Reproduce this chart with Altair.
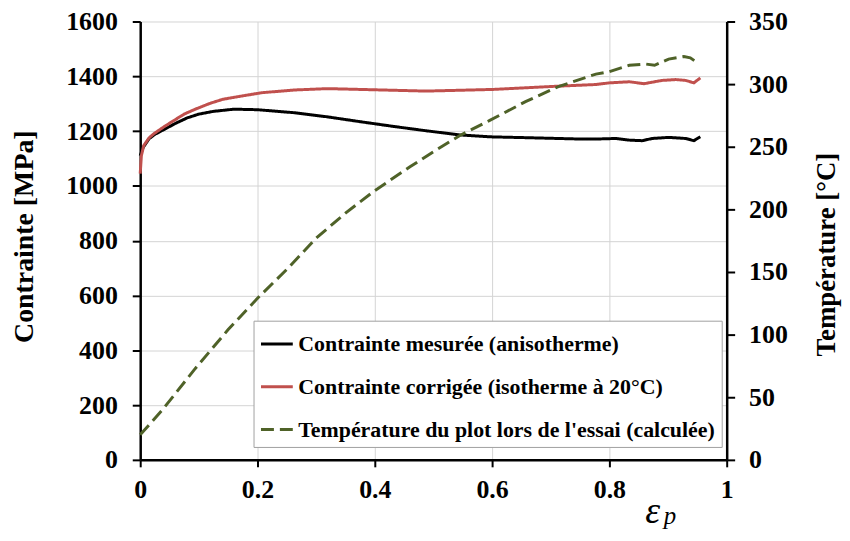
import altair as alt
import pandas as pd

# ---- data ----
series_names = [
    "Contrainte mesurée (anisotherme)",
    "Contrainte corrigée (isotherme à 20°C)",
    "Température du plot lors de l'essai (calculée)",
]

eps_meas = [0.000, 0.005, 0.015, 0.025, 0.040, 0.060, 0.080, 0.100, 0.125, 0.160,
            0.200, 0.263, 0.319, 0.376, 0.432, 0.488, 0.545, 0.597, 0.657, 0.713,
            0.750, 0.777, 0.811, 0.834, 0.856, 0.873, 0.901, 0.930, 0.944, 0.955]
s_meas = [1110, 1140, 1172, 1188, 1205, 1228, 1248, 1262, 1272, 1280,
          1278, 1267, 1252, 1234, 1217, 1201, 1186, 1179, 1176, 1173,
          1171, 1171, 1173, 1167, 1165, 1173, 1177, 1173, 1165, 1179]

eps_corr = [0.000, 0.002, 0.006, 0.015, 0.023, 0.040, 0.057, 0.075, 0.094, 0.120,
            0.141, 0.162, 0.207, 0.263, 0.319, 0.376, 0.432, 0.488, 0.545, 0.601,
            0.657, 0.713, 0.777, 0.800, 0.834, 0.859, 0.890, 0.913, 0.930, 0.944, 0.955]
s_corr = [1045, 1110, 1147, 1175, 1190, 1215, 1238, 1262, 1280, 1302,
          1316, 1324, 1340, 1350, 1355, 1352, 1349, 1346, 1349, 1352,
          1358, 1364, 1370, 1376, 1380, 1373, 1385, 1388, 1385, 1376, 1394]

eps_temp = [0.000, 0.038, 0.094, 0.150, 0.200, 0.252, 0.300, 0.350, 0.400, 0.460,
            0.500, 0.545, 0.596, 0.657, 0.713, 0.777, 0.800, 0.834, 0.862, 0.877,
            0.901, 0.927, 0.938, 0.953]
t_temp = [20, 40, 73, 104, 129, 153, 177, 197, 215, 234,
          246, 259, 271, 286, 298, 308, 310, 315, 316, 315,
          320, 322, 321, 316]

x_ticks = [0, 0.2, 0.4, 0.6, 0.8, 1]
stress_ticks = [0, 200, 400, 600, 800, 1000, 1200, 1400, 1600]
temp_ticks = [0, 50, 100, 150, 200, 250, 300, 350]

colors = ["#000000", "#C0504D", "#4F6228"]
dashes = [[1, 0], [1, 0], [13, 6]]
widths = [3, 3, 4.5]

rows = []
for e, v in zip(eps_meas, s_meas):
    rows.append({"eps": e, "val": v, "serie": series_names[0]})
for e, v in zip(eps_corr, s_corr):
    rows.append({"eps": e, "val": v, "serie": series_names[1]})
for e, v in zip(eps_temp, t_temp):
    rows.append({"eps": e, "val": v, "serie": series_names[2]})
df = pd.DataFrame(rows)

FONT = "Liberation Serif"

legend = alt.Legend(
    title=None, orient="none", legendX=114, legendY=301,
    symbolType="stroke", symbolSize=1024, symbolStrokeWidth=3.5,
    labelFont=FONT, labelFontWeight="bold", labelFontSize=22, labelLimit=0,
    labelOffset=4, rowPadding=14, padding=6,
    strokeColor="#A0A0A0", fillColor="white",
)

color_enc = alt.Color("serie:N", scale=alt.Scale(domain=series_names, range=colors), legend=legend)
dash_enc = alt.StrokeDash("serie:N", scale=alt.Scale(domain=series_names, range=dashes), legend=legend)
width_enc = alt.StrokeWidth("serie:N", scale=alt.Scale(domain=series_names, range=widths), legend=legend)

x_enc = alt.X(
    "eps:Q",
    scale=alt.Scale(domain=[0, 1], nice=False),
    axis=alt.Axis(
        values=x_ticks, format="~g", grid=True, gridColor="#D4D4D4", gridWidth=1,
        domainColor="black", domainWidth=2.5, tickColor="black", tickWidth=2, tickSize=7,
        labelFont=FONT, labelFontWeight="bold", labelFontSize=26, labelPadding=10,
        labelColor="black", labelFlush=False,
        title="ε", titleFont=FONT, titleFontStyle="italic", titleFontWeight="normal",
        titleFontSize=38, titleX=515, titleY=63, titleBaseline="alphabetic",
        titleAnchor="start", titleAlign="center", titleColor="black",
    ),
)

stress = alt.Chart(df).transform_filter(
    alt.FieldOneOfPredicate(field="serie", oneOf=series_names[:2])
).mark_line().encode(
    x=x_enc,
    y=alt.Y(
        "val:Q",
        scale=alt.Scale(domain=[0, 1600], nice=False),
        axis=alt.Axis(
            values=stress_ticks, format="d", grid=True, gridColor="#D4D4D4", gridWidth=1,
            domainColor="black", domainWidth=2.5, tickColor="black", tickWidth=2, tickSize=8,
            labelFont=FONT, labelFontWeight="bold", labelFontSize=26, labelPadding=15,
            labelColor="black",
            title="Contrainte [MPa]", titleFont=FONT, titleFontWeight="bold", titleFontSize=28,
            titleX=-116, titleY=216, titleAngle=270, titleBaseline="middle", titleAlign="center",
            titleColor="black",
        ),
    ),
    color=color_enc, strokeDash=dash_enc, strokeWidth=width_enc,
)

temp = alt.Chart(df).transform_filter(
    alt.FieldEqualPredicate(field="serie", equal=series_names[2])
).mark_line().encode(
    x=x_enc,
    y=alt.Y(
        "val:Q",
        scale=alt.Scale(domain=[0, 350], nice=False),
        axis=alt.Axis(
            orient="right", values=temp_ticks, format="d", grid=False,
            domainColor="black", domainWidth=2.5, tickColor="black", tickWidth=2, tickSize=8,
            labelFont=FONT, labelFontWeight="bold", labelFontSize=26, labelPadding=14,
            labelColor="black",
            title="Température [°C]", titleFont=FONT, titleFontWeight="bold", titleFontSize=27,
            titleX=100, titleY=234, titleAngle=270, titleBaseline="middle", titleAlign="center",
            titleColor="black",
        ),
    ),
    color=color_enc, strokeDash=dash_enc, strokeWidth=width_enc,
)

sub = alt.Chart(pd.DataFrame({"t": ["p"]})).mark_text(
    font=FONT, fontStyle="italic", fontSize=25, baseline="alphabetic", align="center", color="black"
).encode(text="t:N", x=alt.value(533), y=alt.value(506))

chart = alt.layer(stress, temp, sub).resolve_scale(y="independent").properties(
    width=590, height=441,
    autosize=alt.AutoSizeParams(type="none"),
    padding={"left": 133, "top": 12, "right": 116, "bottom": 72},
    background="white",
).configure_view(stroke=None)

chart.save("out.html", embed_options={"renderer": "svg", "actions": False})
